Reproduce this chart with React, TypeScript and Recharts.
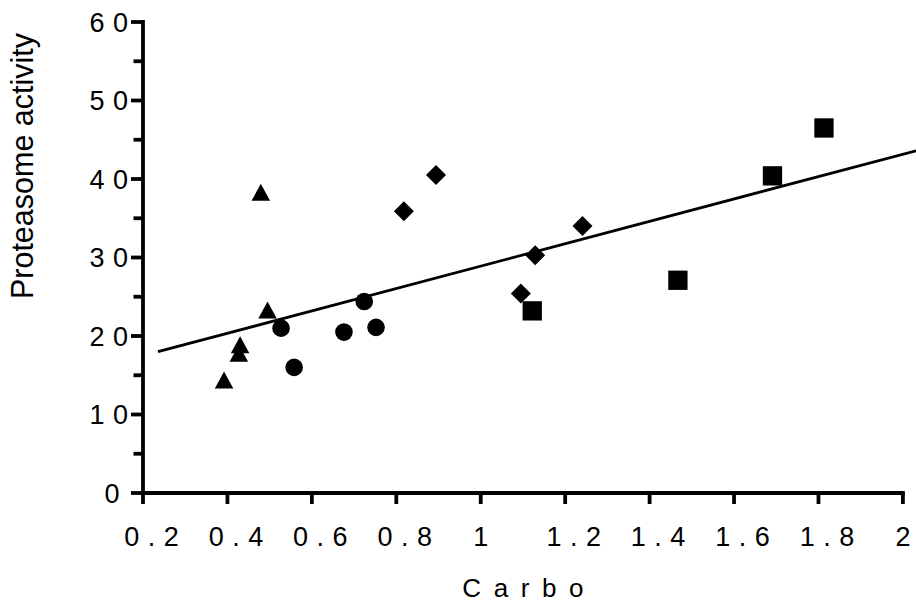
import React from 'react';
import { ScatterChart, Scatter, XAxis, YAxis, ReferenceLine, Label } from 'recharts';

// ---- data ----
const triangleX = [0.392, 0.427, 0.430, 0.479, 0.495];
const triangleY = [14.4, 17.8, 18.9, 38.3, 23.3];
const circleX = [0.527, 0.558, 0.676, 0.724, 0.752];
const circleY = [21.0, 16.0, 20.5, 24.4, 21.1];
const diamondX = [0.818, 0.894, 1.095, 1.129, 1.241];
const diamondY = [35.9, 40.5, 25.4, 30.3, 34.0];
const squareX = [1.122, 1.467, 1.691, 1.813];
const squareY = [23.2, 27.1, 40.4, 46.5];
const fitX = [0.2355, 2.031];
const fitY = [18.0, 43.6];

const xTicks = [0.2, 0.4, 0.6, 0.8, 1, 1.2, 1.4, 1.6, 1.8, 2];
const yTicks = [0, 5, 10, 15, 20, 25, 30, 35, 40, 45, 50, 55, 60];
const xDomain = [0.2, 2.031];
const yDomain = [0, 60];
const xAxisEnd = 2;
const xTitle = 'Carbo';
const yTitle = 'Proteasome activity';

const zip = (xs: number[], ys: number[]) => xs.map((x, i) => ({ x, y: ys[i] }));
const triangles = zip(triangleX, triangleY);
const circles = zip(circleX, circleY);
const diamonds = zip(diamondX, diamondY);
const squares = zip(squareX, squareY);
const fit = zip(fitX, fitY);

// ---- styling ----
const FONT = '"Liberation Sans", Arial, Helvetica, sans-serif';
const TICK_FONT = 27;
const TICK_SPACING = 8.5;
const AXIS_W = 3.8;
const CW: Record<string, number> = {
  '0': 0.556, '1': 0.556, '2': 0.556, '3': 0.556, '4': 0.556, '5': 0.556,
  '6': 0.556, '7': 0.556, '8': 0.556, '9': 0.556, '.': 0.278,
  C: 0.722, a: 0.556, r: 0.333, b: 0.556, o: 0.556,
};
const naturalWidth = (s: string, f: number) =>
  s.split('').reduce((acc, c) => acc + (CW[c] ?? 0.556) * f, 0);

const fmt = (v: number) => String(Math.round(v * 10) / 10);

const SpacedText = ({ x, y, label, size, spacing }: any) => (
  <text
    x={x}
    y={y}
    textAnchor="start"
    fontFamily={FONT}
    fontSize={size}
    fill="#000"
    style={label.length > 1 ? { letterSpacing: `${spacing}px` } : undefined}
  >
    {label}
  </text>
);

const XTick = (props: any) => {
  const { x, y, payload } = props;
  const label = fmt(payload.value);
  const start = x - naturalWidth(label, TICK_FONT) / 2;
  return <SpacedText x={start} y={y + 41.5} label={label} size={TICK_FONT} spacing={TICK_SPACING} />;
};

const Y_TICK_SIZE = 11;
const YTick = (props: any) => {
  const { x, y, payload } = props;
  const axisX = x + Y_TICK_SIZE;
  const v = payload.value as number;
  const major = v % 10 === 0;
  const label = fmt(v);
  const right = axisX - 23.5;
  return (
    <g>
      <line
        x1={axisX - (major ? 12 : 9.5)}
        x2={axisX}
        y1={y}
        y2={y}
        stroke="#000"
        strokeWidth={AXIS_W}
      />
      {major && (
        <SpacedText
          x={right - naturalWidth(label, TICK_FONT)}
          y={y + 9.5}
          label={label}
          size={TICK_FONT}
          spacing={TICK_SPACING}
        />
      )}
    </g>
  );
};

const XTitle = (props: any) => {
  const vb = props.viewBox;
  const f = 26;
  const sp = 12.6;
  const frac = (xAxisEnd - xDomain[0]) / (xDomain[1] - xDomain[0]);
  const cx = vb.x + (vb.width * frac) / 2;
  const w = naturalWidth(xTitle, f) + (xTitle.length - 1) * sp;
  return <SpacedText x={cx - w / 2} y={vb.y + 104} label={xTitle} size={f} spacing={sp} />;
};

const YTitle = (props: any) => {
  const vb = props.viewBox;
  const x = vb.x + 33;
  const y = 166;
  return (
    <text
      x={x}
      y={y}
      transform={`rotate(-90, ${x}, ${y})`}
      textAnchor="middle"
      fontFamily={FONT}
      fontSize={30.5}
      fill="#000"
    >
      {yTitle}
    </text>
  );
};

const Triangle = (p: any) => {
  const { cx, cy } = p;
  const w = 18.5;
  const h = 17;
  return <path d={`M${cx},${cy - h / 2} L${cx + w / 2},${cy + h / 2} L${cx - w / 2},${cy + h / 2} Z`} fill="#000" />;
};
const Dot = (p: any) => <circle cx={p.cx} cy={p.cy} r={8.8} fill="#000" />;
const Diamond = (p: any) => {
  const { cx, cy } = p;
  const r = 10;
  return <path d={`M${cx},${cy - r} L${cx + r},${cy} L${cx},${cy + r} L${cx - r},${cy} Z`} fill="#000" />;
};
const Square = (p: any) => {
  const s = 19.3;
  return <rect x={p.cx - s / 2} y={p.cy - s / 2} width={s} height={s} fill="#000" />;
};
const Nothing = () => <g />;

export default function App() {
  return (
    <div style={{ position: 'absolute', left: 0, top: 0, width: 916, height: 603, background: '#fff' }}>
      <ScatterChart width={916} height={603} margin={{ top: 22, right: 0, bottom: 0, left: 0 }}>
        <XAxis
          type="number"
          dataKey="x"
          domain={xDomain}
          ticks={xTicks}
          interval={0}
          axisLine={false}
          tickLine={{ stroke: '#000', strokeWidth: AXIS_W }}
          tickSize={11}
          tickMargin={0}
          height={110}
          tick={<XTick />}
        >
          <Label content={<XTitle />} />
        </XAxis>
        <YAxis
          type="number"
          dataKey="y"
          domain={yDomain}
          ticks={yTicks}
          interval={0}
          axisLine={{ stroke: '#000', strokeWidth: AXIS_W, strokeLinecap: 'square' }}
          tickLine={false}
          tickSize={Y_TICK_SIZE}
          tickMargin={0}
          width={143}
          tick={<YTick />}
        >
          <Label content={<YTitle />} />
        </YAxis>
        <ReferenceLine
          segment={[{ x: xDomain[0], y: 0 }, { x: xAxisEnd, y: 0 }]}
          stroke="#000"
          strokeWidth={AXIS_W}
          strokeLinecap="square"
          ifOverflow="visible"
        />
        <Scatter data={fit} line={{ stroke: '#000', strokeWidth: 2.8 }} shape={<Nothing />} isAnimationActive={false} />
        <Scatter data={triangles} shape={<Triangle />} isAnimationActive={false} />
        <Scatter data={circles} shape={<Dot />} isAnimationActive={false} />
        <Scatter data={diamonds} shape={<Diamond />} isAnimationActive={false} />
        <Scatter data={squares} shape={<Square />} isAnimationActive={false} />
      </ScatterChart>
    </div>
  );
}
